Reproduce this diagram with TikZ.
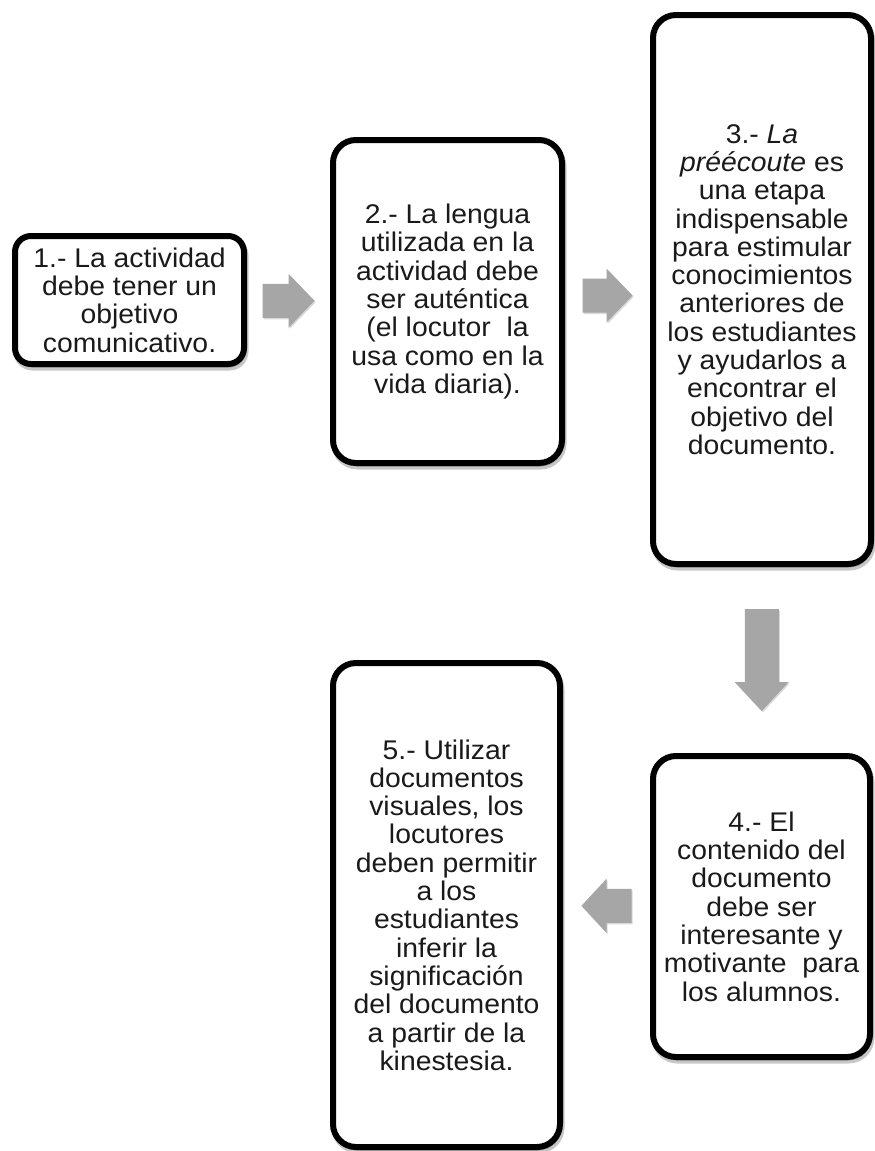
\documentclass[tikz,border=0pt]{standalone}
\usepackage{fontspec}
\setmainfont{Liberation Sans}[FakeStretch=1.05]
\usetikzlibrary{shadows,calc}
\definecolor{arrowgray}{HTML}{A6A6A6}
\definecolor{textgray}{HTML}{1A1A1A}
\begin{document}
\begin{tikzpicture}[x=1pt,y=-1pt,
  stepbox/.style={draw=black, line width=6pt, rounded corners=23pt, fill=white,
    align=center, inner sep=0pt, text=textgray, font=\fontsize{27pt}{28.3pt}\selectfont,
    drop shadow={shadow xshift=1.5pt, shadow yshift=-3.5pt, opacity=0.22,
      fill=black, draw=black, line width=6pt}},
  arrowshadow/.style={drop shadow={shadow xshift=1pt, shadow yshift=-1.5pt, opacity=0.15, fill=black}},
  pics/blockarr/.style args={#1/#2}{code={
    \fill[arrowgray, arrowshadow] (-#1/2,-17) -- (#1/2-#2,-17) -- (#1/2-#2,-27) -- (#1/2,0)
      -- (#1/2-#2,27) -- (#1/2-#2,17) -- (-#1/2,17) -- cycle;}}
]
\useasboundingbox[fill=white] (0,0) rectangle (875,1151);

\node[stepbox, rounded corners=16pt, minimum width=229pt, minimum height=128pt] (b1) at (129.5,300)
  {1.- La actividad\\debe tener un\\objetivo\\comunicativo.};

\node[stepbox, minimum width=229pt, minimum height=323pt] (b2) at (447.5,301.5)
  {2.- La lengua\\utilizada en la\\actividad debe\\ser auténtica\\(el locutor\ \ la\\usa como en la\\vida diaria).};

\node[stepbox, minimum width=218pt, minimum height=549pt] (b3) at (762,289.5)
  {3.- \textit{La}\\\textit{préécoute} es\\una etapa\\indispensable\\para estimular\\conocimientos\\anteriores de\\los estudiantes\\y ayudarlos a\\encontrar el\\objetivo del\\documento.};

\node[stepbox, minimum width=217pt, minimum height=301pt] (b4) at (761.5,906.5)
  {4.- El\\contenido del\\documento\\debe ser\\interesante y\\motivante\ \ para\\los alumnos.};

\node[stepbox, minimum width=227pt, minimum height=484pt] (b5) at (446.5,905)
  {5.- Utilizar\\documentos\\visuales, los\\locutores\\deben permitir\\a los\\estudiantes\\inferir la\\significación\\del documento\\a partir de la\\kinestesia.};

\coordinate (m12) at ($(b1.east)!0.5!(b2.west)$);
\coordinate (m23) at ($(b2.east)!0.5!(b3.west)$);
\coordinate (m34) at ($(b3.south)!0.5!(b4.north)$);
\coordinate (m45) at ($(b4.west)!0.5!(b5.east)$);

\pic (a12) at (m12) {blockarr=52/26};
\pic (a23) at (m23) {blockarr=50/26};
\pic[rotate=-90] (a34) at (m34) {blockarr=102/29};
\pic[rotate=180] (a45) at (m45) {blockarr=50/25};
\end{tikzpicture}
\end{document}
